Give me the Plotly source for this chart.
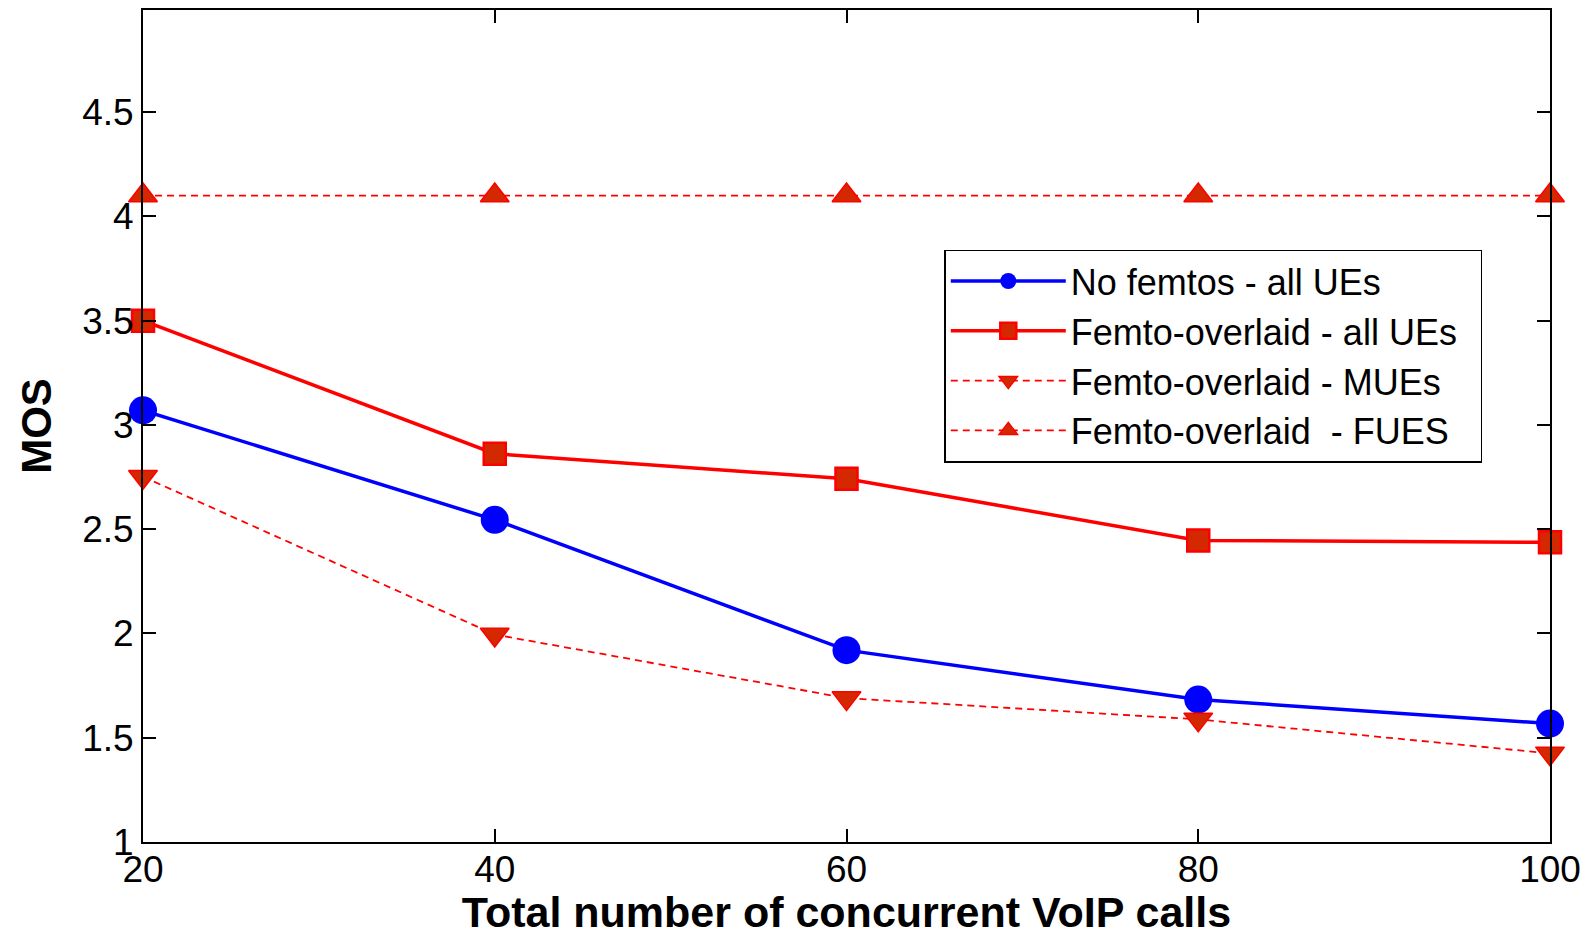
import plotly.graph_objects as go

calls = [20, 40, 60, 80, 100]
no_femtos_all = [3.07, 2.545, 1.92, 1.683, 1.568]
femto_all = [3.5, 2.862, 2.742, 2.446, 2.437]
femto_mues = [2.752, 1.995, 1.69, 1.588, 1.425]
femto_fues = [4.1, 4.1, 4.1, 4.1, 4.1]

x_ticks = [20, 40, 60, 80, 100]
y_ticks = [1, 1.5, 2, 2.5, 3, 3.5, 4, 4.5]
y_tick_text = ["1", "1.5", "2", "2.5", "3", "3.5", "4", "4.5"]

FONT = "Liberation Sans, Arial, sans-serif"
RED = "#FF0000"
RED_FACE = "#D42800"
BLUE = "#0000FF"

fig = go.Figure()
fig.add_trace(go.Scatter(
    x=calls, y=no_femtos_all, mode="lines+markers", name="No femtos - all UEs",
    line=dict(color=BLUE, width=3.5), cliponaxis=False,
    marker=dict(symbol="circle", size=28, color=BLUE, line=dict(width=0)),
))
fig.add_trace(go.Scatter(
    x=calls, y=femto_all, mode="lines+markers", name="Femto-overlaid - all UEs\u2002",
    line=dict(color=RED, width=3.5), cliponaxis=False,
    marker=dict(symbol="square", size=22, color=RED_FACE, line=dict(color=RED, width=2.5)),
))
fig.add_trace(go.Scatter(
    x=calls, y=femto_mues, mode="lines+markers", name="Femto-overlaid - MUEs",
    line=dict(color=RED, width=1.8, dash="7px,5px"), cliponaxis=False,
    marker=dict(symbol="triangle-down", size=25, color=RED_FACE, line=dict(color=RED, width=1.5)),
))
fig.add_trace(go.Scatter(
    x=calls, y=femto_fues, mode="lines+markers", name="Femto-overlaid  - FUES",
    line=dict(color=RED, width=1.8, dash="7px,5px"), cliponaxis=False,
    marker=dict(symbol="triangle-up", size=25, color=RED_FACE, line=dict(color=RED, width=1.5)),
))

axis_common = dict(
    showline=True, linecolor="black", linewidth=2, mirror="ticks",
    ticks="inside", ticklen=13, tickwidth=2, tickcolor="black",
    showgrid=False, zeroline=False, automargin=False,
    tickfont=dict(family=FONT, size=37, color="black"),
)

fig.update_layout(
    width=1589, height=936,
    margin=dict(l=143, r=39, t=10, b=94),
    paper_bgcolor="white", plot_bgcolor="white",
    font=dict(family=FONT, color="black"),
    xaxis=dict(
        range=[20, 100], tickvals=x_ticks, ticktext=[str(v) for v in x_ticks],
        title=dict(text="<b>Total number of concurrent VoIP calls</b>",
                   font=dict(family=FONT, size=43, color="black"), standoff=17),
        ticklabelstandoff=-6,
        **axis_common,
    ),
    yaxis=dict(
        range=[1, 4.99], tickvals=y_ticks, ticktext=y_tick_text,
        title=dict(text="<b>MOS</b>", font=dict(family=FONT, size=42, color="black"), standoff=17),
        ticklabelstandoff=0,
        **axis_common,
    ),
    legend=dict(
        x=0.5695, y=0.712, xanchor="left", yanchor="top",
        bgcolor="white", bordercolor="black", borderwidth=1.5,
        font=dict(family=FONT, size=36, color="black"),
        itemwidth=115, tracegroupgap=0,
    ),
    showlegend=True,
)

fig.write_html("out.html")
